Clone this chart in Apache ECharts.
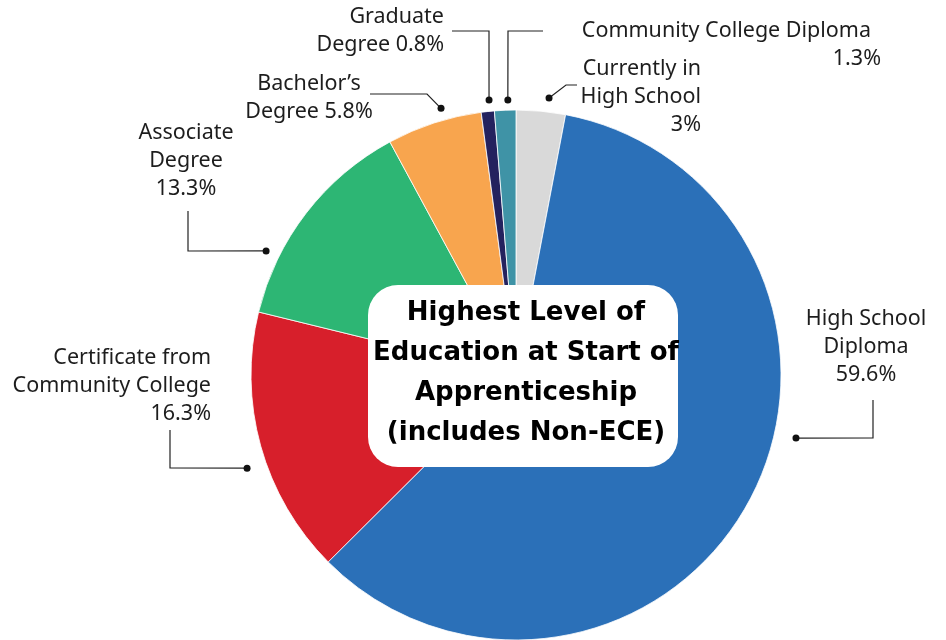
<!DOCTYPE html>
<html>
<head>
<meta charset="utf-8">
<script src="https://cdn.jsdelivr.net/npm/echarts@6/dist/echarts.min.js"></script>
<style>
  html, body { margin: 0; padding: 0; background: #ffffff; }
  #chart { width: 946px; height: 640px; }
</style>
</head>
<body>
<div id="chart"></div>
<script>
// Education categories, clockwise from 12 o'clock
const categories = [
  'Currently in\nHigh School',
  'High School\nDiploma',
  'Certificate from\nCommunity College',
  'Associate\nDegree',
  'Bachelor’s\nDegree',
  'Graduate\nDegree',
  'Community College Diploma'
];
// Share of apprentices (%)
const shares = [3, 59.6, 16.3, 13.3, 5.8, 0.8, 1.3];
const sliceColors = ['#d9d9d9', '#2b70b8', '#d71f2b', '#2db674', '#f8a54e', '#24225e', '#3f93a6'];
const titleLines = ['Highest Level of', 'Education at Start of', 'Apprenticeship', '(includes Non-ECE)'];

const CX = 516, CY = 375, R = 265;

// Label placement: text box anchor, alignment, separator before the value,
// leader dot (angle clockwise from top, distance from centre) and the rest of the leader path
const labelCfg = [
  { sep: '\n', x: 701, y: 55,  align: 'right',  dot: [6.8, 279],   path: [[566, 85], [577, 85]] },
  { sep: '\n', x: 866, y: 305, align: 'center', dot: [102.7, 287], path: [[873, 438], [873, 400]] },
  { sep: '\n', x: 211, y: 344, align: 'right',  dot: [250.9, 284.6], path: [[170, 468], [170, 430]] },
  { sep: '\n', x: 186, y: 119, align: 'center', dot: [296.4, 279], path: [[188, 251], [188, 211]] },
  { sep: ' ',  x: 309, y: 70,  align: 'center', dot: [344.3, 277], path: [[427, 94], [370, 94]] },
  { sep: ' ',  x: 444, y: 3,   align: 'right',  dot: [354.4, 276.3], path: [[489, 31], [452, 31]] },
  { sep: '\n', x: 881, y: 17,  align: 'right',  dot: [358.3, 275], path: [[508, 31], [543, 31]], padFirst: 10 }
];

function dotPoint(cfg) {
  const a = cfg.dot[0] * Math.PI / 180;
  return [CX + cfg.dot[1] * Math.sin(a), CY - cfg.dot[1] * Math.cos(a)];
}

const labelFont = 'Noto Sans';
const labelSize = 21.5;

const chart = echarts.init(document.getElementById('chart'), null, { renderer: 'canvas' });

const dots = labelCfg.map(cfg => {
  const p = dotPoint(cfg);
  return {
    type: 'circle',
    shape: { cx: p[0], cy: p[1], r: 3.5 },
    style: { fill: '#111111' },
    z: 50
  };
});

chart.setOption({
  backgroundColor: '#ffffff',
  animation: false,
  color: sliceColors,
  series: [{
    type: 'pie',
    center: [CX, CY],
    radius: [0, R],
    startAngle: 90,
    clockwise: true,
    avoidLabelOverlap: false,
    itemStyle: { borderColor: '#ffffff', borderWidth: 0.8 },
    data: categories.map((name, i) => ({ name: name, value: shares[i] })),
    label: {
      show: true,
      position: 'outside',
      color: '#1d1d1d',
      fontFamily: labelFont,
      fontSize: labelSize,
      lineHeight: 28,
      formatter: function (p) {
        const cfg = labelCfg[p.dataIndex];
        if (cfg.padFirst) {
          return '{a|' + p.name + '}\n{b|' + p.value + '%}';
        }
        return p.name + cfg.sep + p.value + '%';
      },
      rich: {
        a: { fontFamily: labelFont, fontSize: labelSize, lineHeight: 28, color: '#1d1d1d', padding: [0, 10, 0, 0] },
        b: { fontFamily: labelFont, fontSize: labelSize, lineHeight: 28, color: '#1d1d1d' }
      }
    },
    labelLine: {
      show: true,
      smooth: false,
      lineStyle: { color: '#222222', width: 1.2 }
    },
    labelLayout: function (params) {
      const cfg = labelCfg[params.dataIndex];
      return {
        x: cfg.x,
        y: cfg.y,
        align: cfg.align,
        verticalAlign: 'top',
        labelLinePoints: [dotPoint(cfg)].concat(cfg.path)
      };
    }
  }],
  graphic: dots.concat([
    {
      type: 'rect',
      shape: { x: 368, y: 285, width: 310, height: 182, r: 30 },
      style: { fill: '#ffffff' },
      z: 60
    },
    {
      type: 'text',
      x: 526,
      y: 373,
      style: {
        text: titleLines.join('\n'),
        align: 'center',
        verticalAlign: 'middle',
        fontFamily: 'DejaVu Sans',
        fontWeight: 'bold',
        fontSize: 26,
        lineHeight: 40,
        fill: '#000000'
      },
      z: 61
    }
  ])
});
</script>
</body>
</html>
